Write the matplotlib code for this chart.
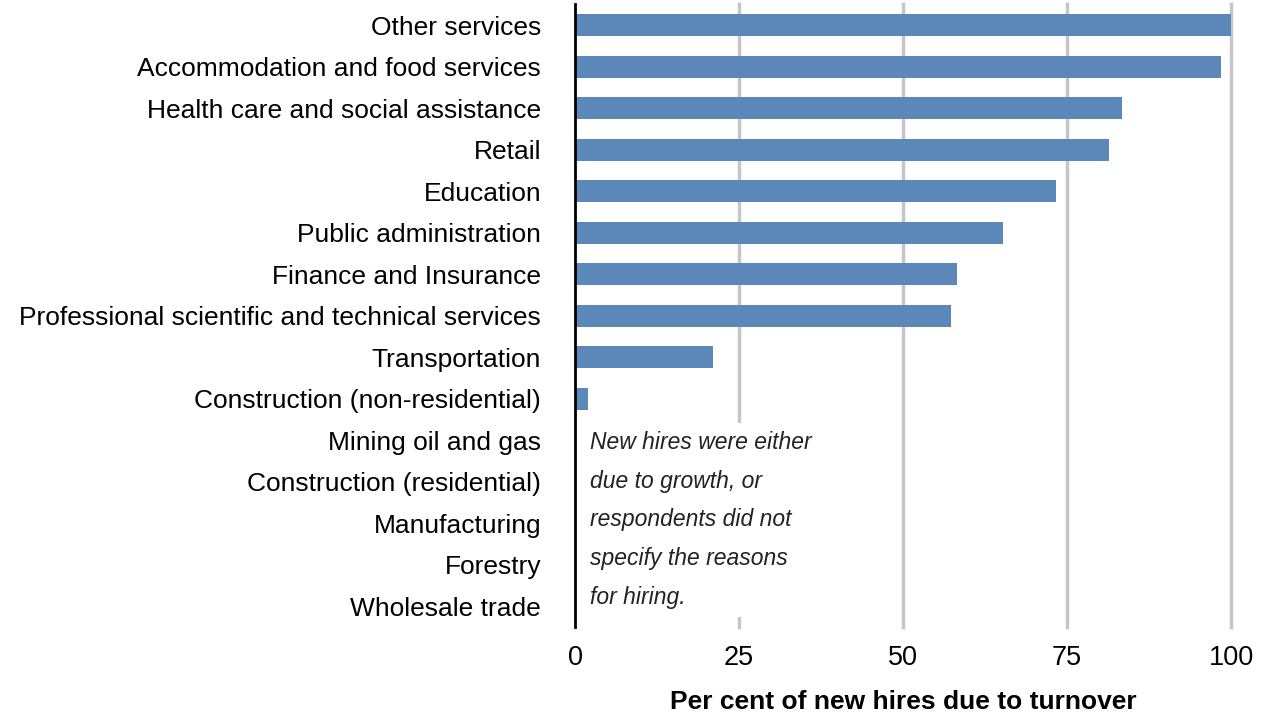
import numpy as np
import matplotlib.pyplot as plt

plt.rcParams['font.family'] = ['Liberation Sans', 'DejaVu Sans']

industries = [
    "Other services",
    "Accommodation and food services",
    "Health care and social assistance",
    "Retail",
    "Education",
    "Public administration",
    "Finance and Insurance",
    "Professional scientific and technical services",
    "Transportation",
    "Construction (non-residential)",
    "Mining oil and gas",
    "Construction (residential)",
    "Manufacturing",
    "Forestry",
    "Wholesale trade",
]
turnover_pct = [100, 98.5, 83.4, 81.4, 73.3, 65.2, 58.2, 57.3, 21.0, 2.0,
                0, 0, 0, 0, 0]
xticks = [0, 25, 50, 75, 100]

note = ("New hires were either\ndue to growth, or\nrespondents did not\n"
        "specify the reasons\nfor hiring.")

fig = plt.figure(figsize=(12.64, 7.14), dpi=100)
ax = fig.add_axes([0.455, 0.122, 0.519, 0.872])

y = np.arange(len(industries))
ax.barh(y, turnover_pct, height=0.53, color='#5b88b8', zorder=3)

ax.set_xlim(0, 100)
ax.set_ylim(len(industries) - 0.5, -0.5)
ax.set_yticks(y)
ax.set_yticklabels(industries, fontsize=19)
ax.set_xticks(xticks)
ax.set_xticklabels([str(v) for v in xticks], fontsize=19.5)
ax.tick_params(length=0, pad=24.5, axis='y')
ax.tick_params(length=0, pad=13, axis='x')

# vertical gridlines, the one at 100 sits on the axes edge so don't clip it
for v in xticks[1:]:
    ax.axvline(v, color='#c6c6c6', lw=2.5, zorder=1, clip_on=False)

for s in ['top', 'right', 'bottom']:
    ax.spines[s].set_visible(False)
ax.spines['left'].set_linewidth(2)
ax.spines['left'].set_color('black')
ax.spines['left'].set_zorder(5)

ax.text(2.2, 9.78, note, fontsize=16.5, style='italic', color='#222222',
        va='top', ha='left', linespacing=1.87, zorder=4,
        bbox=dict(facecolor='white', edgecolor='none', pad=6))

ax.set_xlabel("Per cent of new hires due to turnover", fontsize=19,
              fontweight='bold', labelpad=14)

fig.savefig('out.png', dpi=100)
